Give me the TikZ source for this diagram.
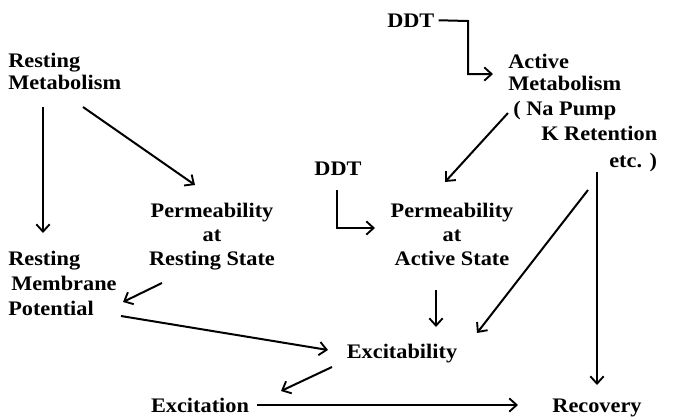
\documentclass[tikz,border=0pt]{standalone}
\usepackage{fontspec}
\setmainfont{Liberation Serif}[FakeStretch=1.08]
\usetikzlibrary{arrows.meta,calc}
\begin{document}
\begin{tikzpicture}[x=0.75pt,y=-0.75pt,
  lbl/.style={inner sep=0pt, font=\fontsize{15.5}{18}\selectfont\bfseries},
  arr/.style={line width=1.5pt, -{Straight Barb[length=5.5pt,width=10pt,line width=1.4pt]}},
  ln/.style={line width=1.5pt}]
\useasboundingbox (0,0) rectangle (676,419);
% nodes
\node[lbl, anchor=base west] (ddtA) at (387,27) {DDT};
\node[lbl, anchor=base west] (actA) at (508,68) {Active};
\node[lbl, anchor=base west] (actB) at (508,90) {Metabolism};
\node[lbl, anchor=base west] (actC) at (513,115) {( Na Pump};
\node[lbl, anchor=base west] (actD) at (541,140) {K Retention};
\node[lbl, anchor=base west] (actE) at (609,167) {etc. )};
\node[lbl, anchor=base west] (rmA) at (8,67) {Resting};
\node[lbl, anchor=base west] (rmB) at (8,89) {Metabolism};
\node[lbl, anchor=base] (ddtB) at (338,175) {DDT};
\node[lbl, anchor=base] (prA) at (212,217) {Permeability};
\node[lbl, anchor=base] (prB) at (212,241) {at};
\node[lbl, anchor=base] (prC) at (212,265) {Resting State};
\node[lbl, anchor=base] (paA) at (452,217) {Permeability};
\node[lbl, anchor=base] (paB) at (452,241) {at};
\node[lbl, anchor=base] (paC) at (452,265) {Active State};
\node[lbl, anchor=base west] (rpA) at (8,265) {Resting};
\node[lbl, anchor=base west] (rpB) at (11,290) {Membrane};
\node[lbl, anchor=base west] (rpC) at (8,315) {Potential};
\node[lbl, anchor=base] (exb) at (402,358) {Excitability};
\node[lbl, anchor=base] (exn) at (200,412) {Excitation};
\node[lbl, anchor=base] (rec) at (597,412) {Recovery};
% arrow end points
\coordinate (kA) at (468,21);
\coordinate (kB) at (468,74);
\coordinate (kC) at (493,74);
\coordinate (kD) at (337,190);
\coordinate (kE) at (337,228);
\coordinate (kF) at (375,228);
% connectors
\draw[arr] ([xshift=3pt]ddtA.east) -- (kA) -- (kB) -- (kC);
\draw[arr] (kD) -- (kE) -- (kF);
\draw[arr] (43,107) -- (43,233);
\draw[arr] (83,107) -- (195,185);
\draw[arr] (508,113) -- (445,182);
\draw[arr] (162,283) -- (123,302);
\draw[arr] (121,316) -- (328,350);
\draw[arr] (436,290) -- (436,327);
\draw[arr] (588,190) -- (477,333);
\draw[arr] (597,172) -- (597,385);
\draw[arr] (332,367) -- (281,391);
\draw[arr] (257,405) -- (518,405);
\end{tikzpicture}
\end{document}
